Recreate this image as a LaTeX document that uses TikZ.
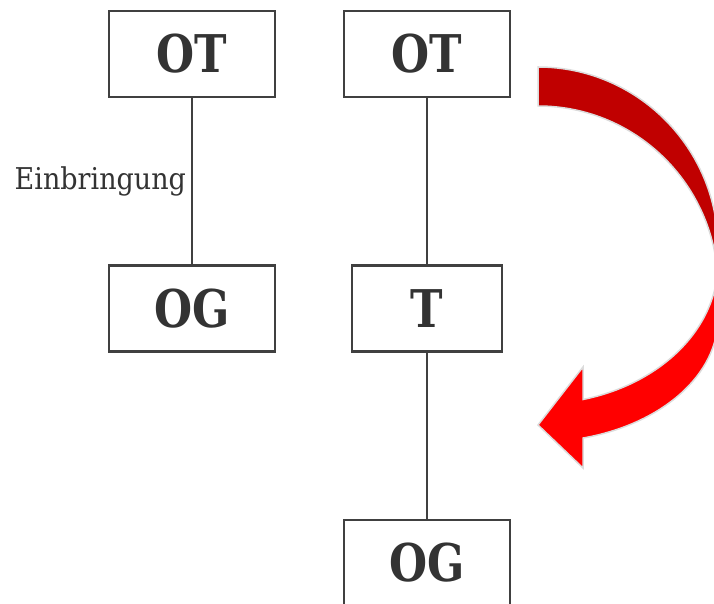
\documentclass[tikz,border=0pt]{standalone}
\usepackage{fontspec}
\setmainfont[FakeStretch=0.84]{DejaVu Serif}
\newfontfamily\labelfont[FakeStretch=0.9]{DejaVu Serif}
\usetikzlibrary{calc}

\definecolor{boxline}{HTML}{404040}
\definecolor{txt}{HTML}{333333}
\definecolor{arrowdark}{HTML}{C00000}
\definecolor{arrowlight}{HTML}{FF0000}
\definecolor{arrowrim}{HTML}{DCDCDC}

\begin{document}
\begin{tikzpicture}[x=1pt,y=1pt,
  level/.style={draw=boxline,text=txt,line width=2.2pt,minimum width=166pt,
    minimum height=86pt,inner sep=0pt,font=\fontsize{52}{52}\selectfont\bfseries},
  link/.style={draw=boxline,line width=2pt}]
\clip (0,0) rectangle (714,604);

% left column
\node[level] (ot1) at (192,550) {OT};
\node[level] (og1) at (192,295.5) {OG};
\draw[link] (ot1) -- node[left,text=txt,inner sep=5pt,
  font=\labelfont\fontsize{30}{30}\selectfont] {Einbringung} (og1);

% right column
\node[level] (ot2) at (427,550) {OT};
\node[level,minimum width=150pt] (t) at (427,295.5) {T};
\node[level] (og2) at (427,41) {OG};
\draw[link] (ot2) -- (t);
\draw[link] (t) -- (og2);

% curved arrow: two outer and two inner half-ellipse arcs, dark above, light below
\path[draw=arrowrim,line width=1.5pt,
  path picture={
    \fill[arrowlight] (500,0) rectangle (714,604);
    \fill[arrowdark] (500,342) rectangle (714,604);
  }]
  (538,537) arc[start angle=90, end angle=0, x radius=180, y radius=181]
  -- (718,286) arc[start angle=0, end angle=-75.5, x radius=180, y radius=124]
  -- (583,136) -- (538,179) -- (583,237) -- (583,204.5)
  arc[start angle=-75.5, end angle=0, x radius=180, y radius=141]
  -- (718,317) arc[start angle=0, end angle=90, x radius=180, y radius=181]
  -- cycle;

\end{tikzpicture}
\end{document}
